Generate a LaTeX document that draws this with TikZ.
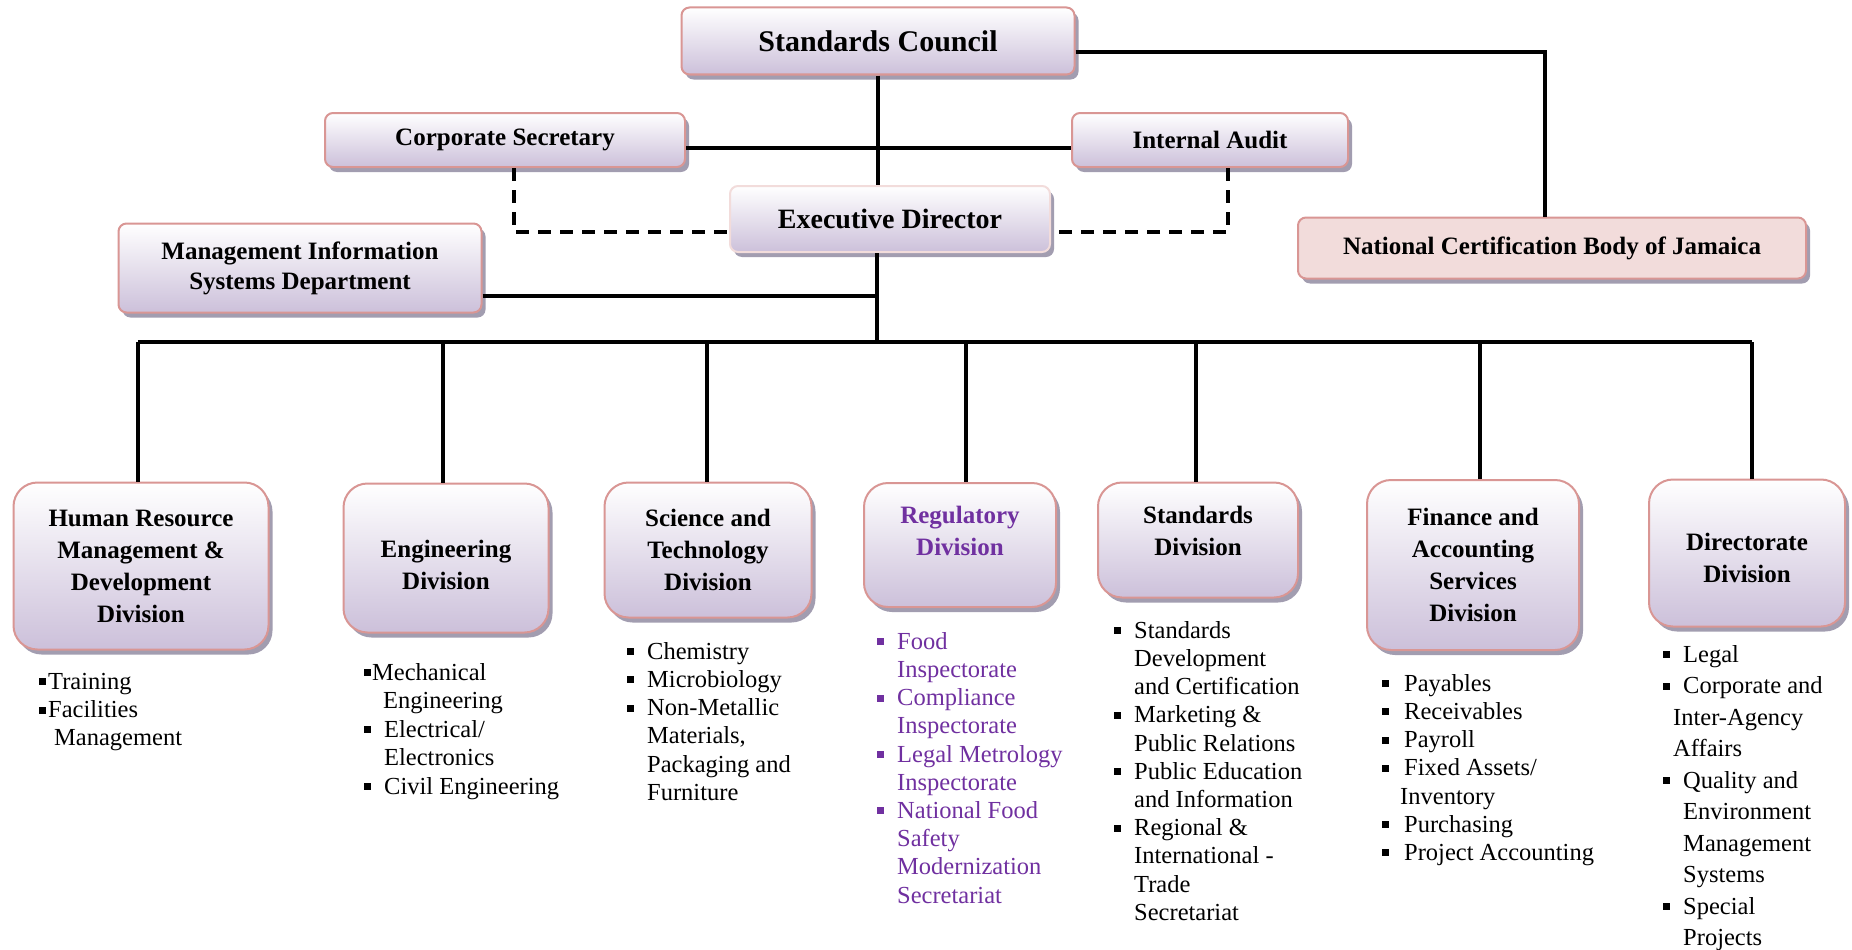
\documentclass[tikz,border=0pt]{standalone}
\usepackage{fontspec}
\setmainfont{Liberation Serif}
\usepackage{xcolor}
\usepackage{tikz}
\usetikzlibrary{shadows}
\definecolor{edge}{HTML}{D99694}
\definecolor{paleedge}{HTML}{F2DCDB}
\definecolor{lilac}{HTML}{CCC0DA}
\definecolor{shadowgray}{HTML}{A29DB0}
\definecolor{rose}{HTML}{F2DCDB}
\definecolor{regpurple}{HTML}{7030A0}
\tikzset{
  box/.style={draw=edge, line width=2pt, rounded corners=8pt, top color=white, bottom color=lilac,
    align=center, inner sep=2pt, font=\fontsize{25}{30}\selectfont\bfseries,
    drop shadow={shadow xshift=4pt, shadow yshift=-5pt, fill=shadowgray, opacity=1}},
  divbox/.style={box, rounded corners=24pt, font=\fontsize{25}{32}\selectfont\bfseries},
  items/.style={anchor=north west, inner sep=0pt, align=left, font=\fontsize{24.5}{28.2}\selectfont},
  link/.style={line width=3.2pt, draw=black},
  dlink/.style={link, dash pattern=on 13pt off 9pt}
}
\newcommand{\bl}[1][20pt]{\makebox[#1][l]{\rule[4pt]{7pt}{7pt}}}
\newcommand{\ind}[1][20pt]{\makebox[#1]{}}

\begin{document}
\begin{tikzpicture}[x=1pt, y=-1pt]
  \path[use as bounding box, fill=white] (0,0) rectangle (1852,950);
  % council and direction
  \node[box, minimum width=393pt, minimum height=67pt, font=\fontsize{30}{36}\selectfont\bfseries] (sc) at (878,41) {Standards Council};
  \node[box, minimum width=360pt, minimum height=54pt] (cs) at (505,140) {Corporate Secretary};
  \node[box, minimum width=276pt, minimum height=54pt] (ia) at (1210,140) {Internal Audit};
  \node[box, draw=paleedge, minimum width=320pt, minimum height=66pt, font=\fontsize{28}{34}\selectfont\bfseries] (ed) at (890,219) {Executive Director};
  \node[box, top color=rose, bottom color=rose, minimum width=508pt, minimum height=61pt] (ncb) at (1552,248) {National Certification Body of Jamaica};
  \node[box, minimum width=363pt, minimum height=89pt] (mis) at (300,268) {Management Information\\Systems Department};

  % divisions
  \node[divbox, minimum width=255pt, minimum height=167pt] (hr) at (141,566) {Human Resource\\Management \&\\Development\\Division};
  \node[divbox, minimum width=205pt, minimum height=149pt] (eng) at (446,558) {\mbox{}\\Engineering\\Division};
  \node[divbox, minimum width=207pt, minimum height=135pt] (sci) at (708,550) {Science and\\Technology\\Division};
  \node[divbox, minimum width=192pt, minimum height=124pt, text=regpurple] (reg) at (960,545) {Regulatory\\Division\\[-4pt]\mbox{}};
  \node[divbox, minimum width=200pt, minimum height=115pt] (std) at (1198,540) {Standards\\Division\\[-14pt]\mbox{}};
  \node[divbox, minimum width=212pt, minimum height=170pt] (fin) at (1473,565) {Finance and\\Accounting\\Services\\Division};
  \node[divbox, minimum width=196pt, minimum height=147pt] (dir) at (1747,553) {\mbox{}\\[-5pt]Directorate\\Division};

  % units of each division
  \node[items] (hrlist) at (39,673) {\bl[9pt]Training\\ \bl[9pt]Facilities\\ \ind[15pt]Management};
  \node[items, font=\fontsize{24.5}{28.5}\selectfont] (englist) at (364,663) {\bl[8pt]Mechanical\\ \ind[19pt]Engineering\\ \bl Electrical/\\ \ind Electronics\\ \bl Civil Engineering};
  \node[items] (scilist) at (627,642) {\bl Chemistry\\ \bl Microbiology\\ \bl Non-Metallic\\ \ind Materials,\\ \ind Packaging and\\ \ind Furniture};
  \node[items, text=regpurple] (reglist) at (877,632) {\bl Food\\ \ind Inspectorate\\ \bl Compliance\\ \ind Inspectorate\\ \bl Legal Metrology\\ \ind Inspectorate\\ \bl National Food\\ \ind Safety\\ \ind Modernization\\ \ind Secretariat};
  \node[items] (stdlist) at (1114,621) {\bl Standards\\ \ind Development\\ \ind and Certification\\ \bl Marketing \&\\ \ind Public Relations\\ \bl Public Education\\ \ind and Information\\ \bl Regional \&\\ \ind International -\\ \ind Trade\\ \ind Secretariat};
  \node[items] (finlist) at (1382,674) {\bl[22pt]Payables\\ \bl[22pt]Receivables\\ \bl[22pt]Payroll\\ \bl[22pt]Fixed Assets/\\ \ind[18pt]Inventory\\ \bl[22pt]Purchasing\\ \bl[22pt]Project Accounting};
  \node[items, font=\fontsize{24.5}{31.5}\selectfont] (dirlist) at (1663,645) {\bl Legal\\ \bl Corporate and\\ \ind[10pt]Inter-Agency\\ \ind[10pt]Affairs\\ \bl Quality and\\ \ind Environment\\ \ind Management\\ \ind Systems\\ \bl Special\\ \ind Projects};

  % lines
  \coordinate (hub) at (877,342);
  \draw[link] (sc.south) -- (sc.south |- ed.north);
  \draw[link] ([yshift=-8pt]cs.east) -- ([yshift=-8pt]ia.west);
  \draw[link] ([yshift=-11pt]sc.east) -| ([xshift=-7pt]ncb.north);
  \draw[dlink] ([xshift=9pt]cs.south) |- ([yshift=-13pt]ed.west);
  \draw[dlink] ([xshift=18pt]ia.south) |- ([yshift=-13pt]ed.east);
  \draw[link] (ed.south -| hub) -- (hub);
  \draw[link] ([yshift=-28pt]mis.east) -| (hub);
  \draw[link] ([xshift=-3pt]hr.north |- hub) -- ([xshift=5pt]dir.north |- hub);
  \foreach \d/\dx in {hr/-3,eng/-3,sci/-1,reg/6,std/-2,fin/7,dir/5}
    \draw[link] ([xshift=\dx pt]\d.north) -- ([xshift=\dx pt]\d.north |- hub);
\end{tikzpicture}
\end{document}
